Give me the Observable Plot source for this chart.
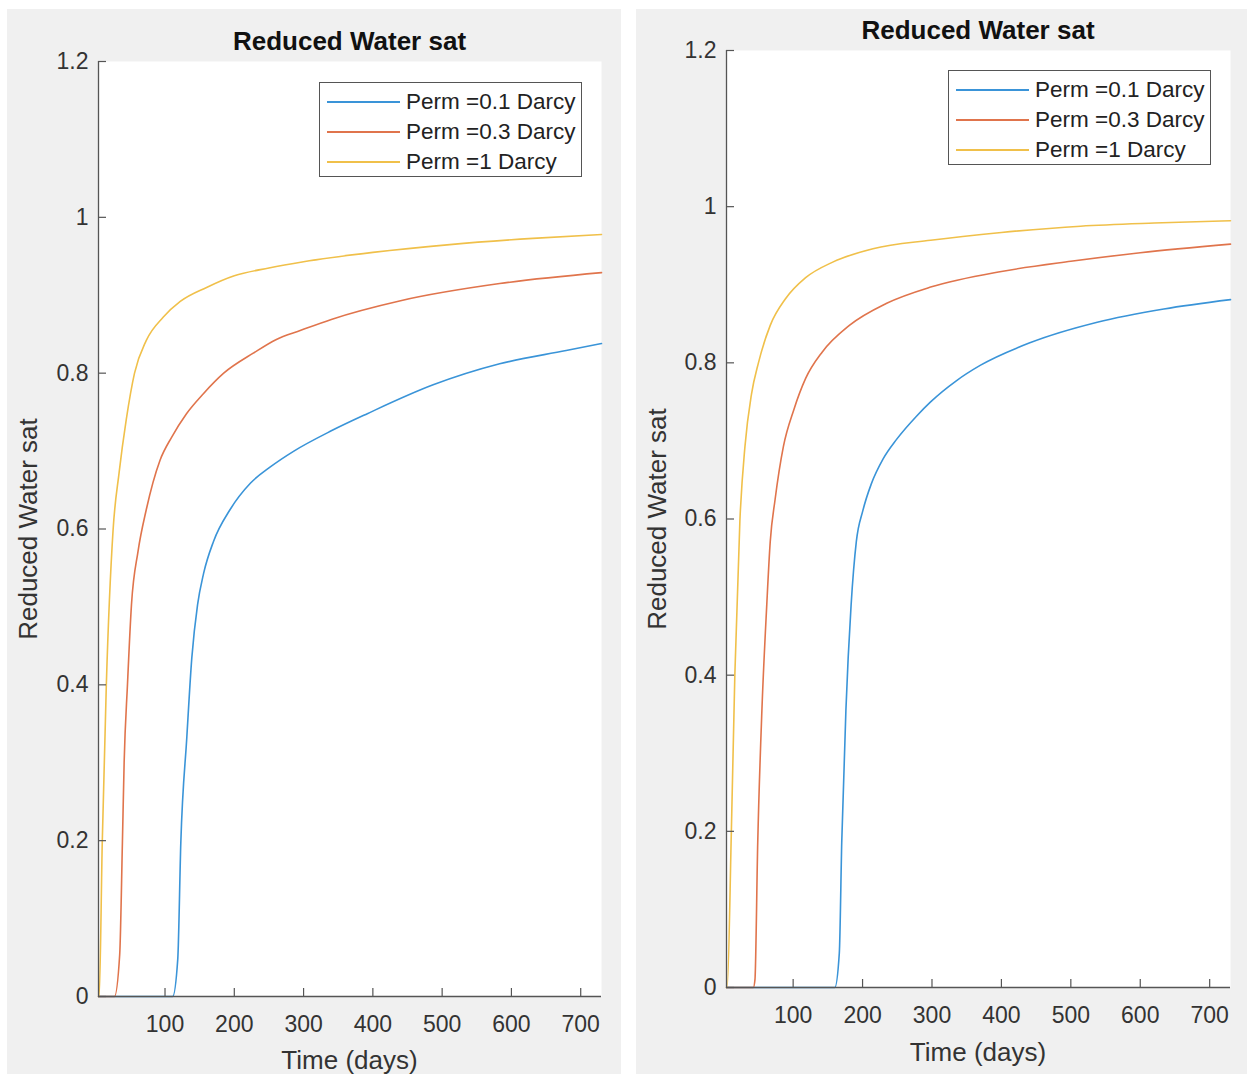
<!DOCTYPE html>
<html>
<head>
<meta charset="utf-8">
<script src="https://cdn.jsdelivr.net/npm/d3@7"></script>
<script src="https://cdn.jsdelivr.net/npm/@observablehq/plot@0.6"></script>
<style>
  html, body { margin: 0; padding: 0; background: #ffffff; }
  #root { position: relative; width: 1247px; height: 1074px; overflow: hidden;
          font-family: "Liberation Sans", Arial, Helvetica, sans-serif; color: #262626; }
  .panel { position: absolute; background: #f0f0f0; overflow: hidden; }
  .panel svg { position: absolute; left: 0; top: 0; }
  .lbl { position: absolute; white-space: nowrap; line-height: 1; transform: translate(-50%, -50%); }
  .title { font-weight: bold; font-size: 26px; color: #111; }
  .axlabel { font-size: 26px; color: #333; }
  .ylab { transform: translate(-50%, -50%) rotate(-90deg); }
  .legend { position: absolute; background: #fff; border: 1px solid #555; box-sizing: border-box; }
  .legrow { position: absolute; left: 0; height: 0; }
  .legline { position: absolute; left: 7px; width: 73px; height: 0; border-top: 2px solid; top: -1px; }
  .legtext { position: absolute; left: 86px; top: 0; transform: translateY(-50%); font-size: 22.5px; line-height: 1; white-space: nowrap; color: #222; }
</style>
</head>
<body>
<div id="root"></div>
<script>
// ---------- shared text / ticks ----------
const chartTitle = "Reduced Water sat";
const xLabelText = "Time (days)";
const yLabelText = "Reduced Water sat";
const seriesNames = ["Perm =0.1 Darcy", "Perm =0.3 Darcy", "Perm =1 Darcy"];
const seriesColors = ["#3a94d8", "#e0744c", "#f0c04a"];
const xTicks = [100, 200, 300, 400, 500, 600, 700];
const xTickLabels = ["100", "200", "300", "400", "500", "600", "700"];
const yTicks = [0, 0.2, 0.4, 0.6, 0.8, 1, 1.2];
const yTickLabels = ["0", "0.2", "0.4", "0.6", "0.8", "1", "1.2"];
const timeDomain = [4, 730];
const satDomain = [0, 1.2];

// ---------- left panel data ----------
const leftTimePerm01 = [4, 111, 118.4, 122.8, 131.5, 138.7, 147, 155.7, 170, 194, 223.5, 252.5, 286, 340, 392, 487, 583, 679, 730];
const leftSatPerm01  = [0, 0, 0.048, 0.197, 0.333, 0.435, 0.503, 0.543, 0.584, 0.625, 0.659, 0.680, 0.700, 0.726, 0.748, 0.785, 0.812, 0.829, 0.838];
const leftTimePerm03 = [4, 27, 34.6, 38.5, 41, 45.8, 51.6, 61, 73, 92.7, 109.7, 131, 155.7, 184.7, 228, 260, 296, 340, 440, 583, 730];
const leftSatPerm03  = [0, 0, 0.054, 0.197, 0.30, 0.40, 0.503, 0.571, 0.625, 0.688, 0.718, 0.748, 0.774, 0.80, 0.826, 0.843, 0.855, 0.869, 0.893, 0.915, 0.929];
const leftTimePerm1  = [4, 5, 9.4, 15.3, 25, 33.7, 44, 56, 73, 97.6, 122, 160, 200, 250, 300, 400, 511, 631, 730];
const leftSatPerm1   = [0, 0, 0.197, 0.40, 0.598, 0.672, 0.74, 0.80, 0.842, 0.872, 0.892, 0.910, 0.925, 0.935, 0.943, 0.955, 0.965, 0.973, 0.978];

// ---------- right panel data ----------
const rightTimePerm01 = [4, 160, 166.5, 170, 176, 183.5, 191, 200.5, 212.6, 229.6, 249, 278, 298, 335, 370, 442, 538, 634, 730];
const rightSatPerm01  = [0, 0, 0.044, 0.186, 0.355, 0.49, 0.571, 0.611, 0.645, 0.677, 0.702, 0.732, 0.750, 0.777, 0.797, 0.826, 0.852, 0.869, 0.881];
const rightTimePerm03 = [4, 42.7, 45, 49, 55, 62, 67, 74, 86, 101, 118, 142, 181, 234, 298, 400, 500, 600, 730];
const rightSatPerm03  = [0, 0, 0.01, 0.186, 0.355, 0.49, 0.571, 0.625, 0.693, 0.74, 0.78, 0.814, 0.848, 0.876, 0.897, 0.917, 0.930, 0.941, 0.952];
const rightTimePerm1  = [4, 5, 11, 16, 23.3, 30.6, 40, 50, 67, 89, 118, 157, 215, 298, 400, 514, 620, 730];
const rightSatPerm1   = [0, 0, 0.2, 0.40, 0.598, 0.693, 0.76, 0.80, 0.848, 0.882, 0.909, 0.929, 0.946, 0.957, 0.967, 0.975, 0.979, 0.982];

const toRows = (times, sats, name) => times.map((t, i) => ({ t, v: sats[i], series: name }));

function makePanel(root, cfg) {
  const panel = document.createElement("div");
  panel.className = "panel";
  Object.assign(panel.style, { left: cfg.left + "px", top: cfg.top + "px", width: cfg.width + "px", height: cfg.height + "px" });
  root.appendChild(panel);

  const m = cfg.margins;
  const plotW = cfg.width - m.left - m.right;
  const plotH = cfg.height - m.top - m.bottom;
  const axisColor = "#555";

  const rows = [
    ...toRows(cfg.series[0][0], cfg.series[0][1], seriesNames[0]),
    ...toRows(cfg.series[1][0], cfg.series[1][1], seriesNames[1]),
    ...toRows(cfg.series[2][0], cfg.series[2][1], seriesNames[2])
  ];

  const svg = Plot.plot({
    width: cfg.width,
    height: cfg.height,
    marginLeft: m.left, marginRight: m.right, marginTop: m.top, marginBottom: m.bottom,
    x: { domain: timeDomain },
    y: { domain: satDomain },
    color: { domain: seriesNames, range: seriesColors },
    style: { background: "transparent", fontFamily: "'Liberation Sans', Arial, Helvetica, sans-serif", fontSize: "23px", color: "#333", overflow: "visible" },
    marks: [
      Plot.frame({ fill: "white", stroke: "none" }),
      Plot.line(rows, { x: "t", y: "v", z: "series", stroke: "series", strokeWidth: 1.6, curve: "monotone-x" }),
      Plot.ruleY([satDomain[0]], { stroke: axisColor, strokeWidth: 1.3 }),
      Plot.ruleX([timeDomain[0]], { stroke: axisColor, strokeWidth: 1.3 }),
      Plot.tickX(xTicks, { x: d => d, stroke: axisColor, strokeWidth: 1.2, insetTop: plotH - 8 }),
      Plot.tickY(yTicks, { y: d => d, stroke: axisColor, strokeWidth: 1.2, insetRight: plotW - 8 }),
      Plot.axisX(xTicks, { tickSize: 0, tickPadding: 19, fontSize: 23, fill: "#333", label: null,
                           tickFormat: d => xTickLabels[xTicks.indexOf(d)] }),
      Plot.axisY(yTicks, { tickSize: 0, tickPadding: 10, fontSize: 23, fill: "#333", label: null,
                           tickFormat: d => yTickLabels[yTicks.indexOf(d)] })
    ]
  });
  panel.appendChild(svg);

  const addLabel = (cls, text, x, y) => {
    const el = document.createElement("div");
    el.className = "lbl " + cls;
    el.textContent = text;
    el.style.left = x + "px";
    el.style.top = y + "px";
    panel.appendChild(el);
  };
  const cx = m.left + plotW / 2;
  const cy = m.top + plotH / 2;
  addLabel("title", chartTitle, cx, cfg.titleY);
  addLabel("axlabel", xLabelText, cx, cfg.xLabelY);
  addLabel("axlabel ylab", yLabelText, cfg.yLabelX, cy);

  const leg = document.createElement("div");
  leg.className = "legend";
  Object.assign(leg.style, { left: cfg.legend.left + "px", top: cfg.legend.top + "px", width: "263px", height: "95px" });
  seriesNames.forEach((name, i) => {
    const row = document.createElement("div");
    row.className = "legrow";
    row.style.top = (19 + 30 * i) + "px";
    const ln = document.createElement("div");
    ln.className = "legline";
    ln.style.borderTopColor = seriesColors[i];
    const tx = document.createElement("div");
    tx.className = "legtext";
    tx.textContent = name;
    row.appendChild(ln);
    row.appendChild(tx);
    leg.appendChild(row);
  });
  panel.appendChild(leg);
}

const root = document.getElementById("root");
makePanel(root, {
  left: 7, top: 9, width: 614, height: 1065,
  margins: { left: 91, right: 20, top: 52, bottom: 78 },
  titleY: 32, xLabelY: 1051, yLabelX: 21,
  legend: { left: 312, top: 73 },
  series: [[leftTimePerm01, leftSatPerm01], [leftTimePerm03, leftSatPerm03], [leftTimePerm1, leftSatPerm1]]
});
makePanel(root, {
  left: 636, top: 9, width: 611, height: 1065,
  margins: { left: 90, right: 17, top: 41, bottom: 87 },
  titleY: 21, xLabelY: 1043, yLabelX: 21,
  legend: { left: 312, top: 61 },
  series: [[rightTimePerm01, rightSatPerm01], [rightTimePerm03, rightSatPerm03], [rightTimePerm1, rightSatPerm1]]
});
</script>
</body>
</html>
